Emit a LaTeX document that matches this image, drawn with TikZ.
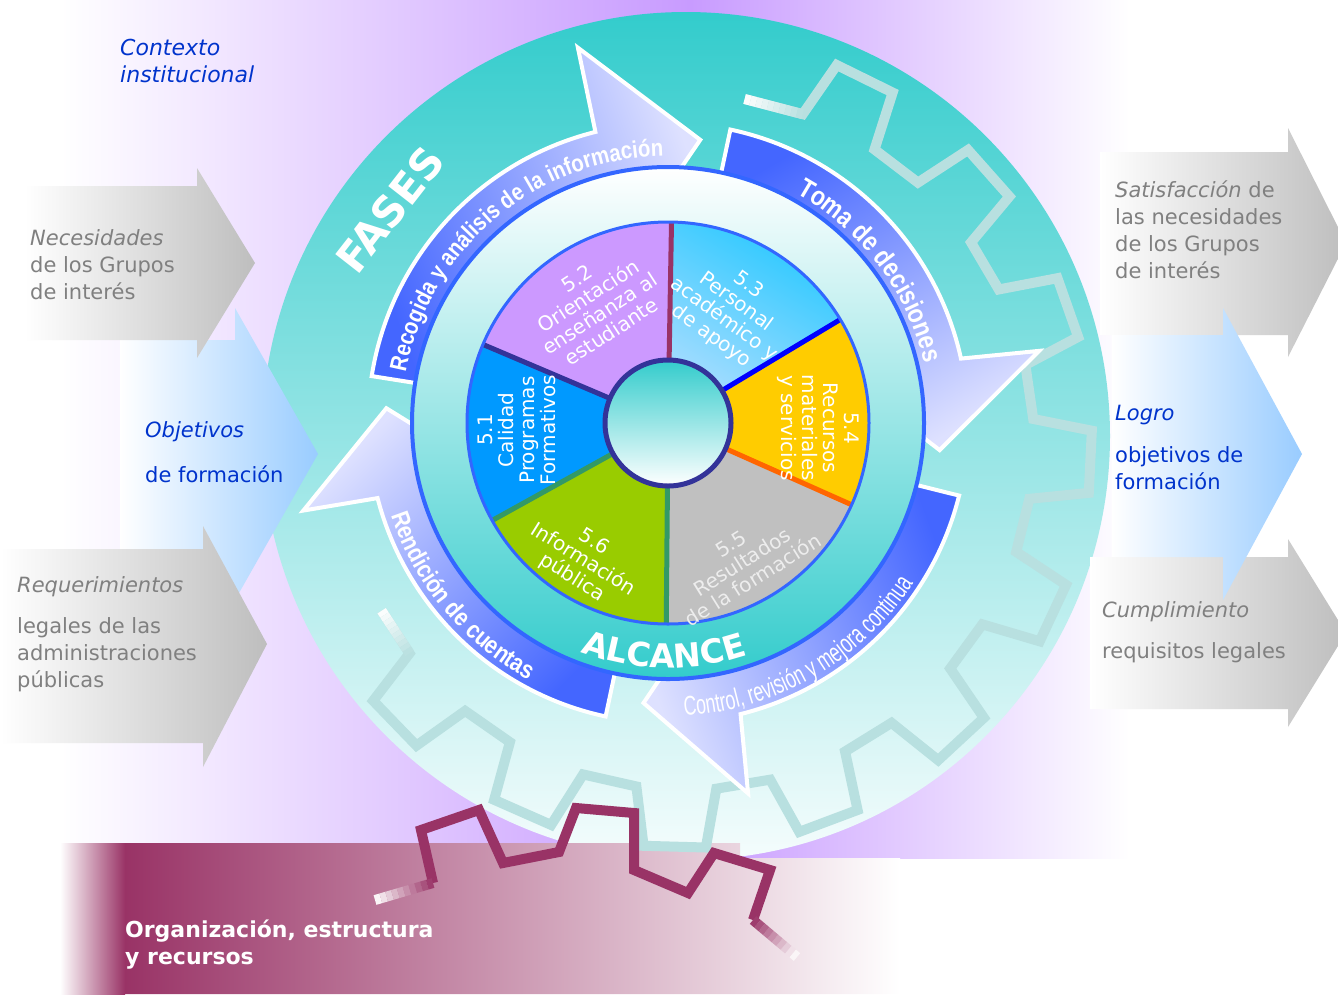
\documentclass[tikz,border=0pt]{standalone}
\usepackage{fontspec}
\setmainfont{DejaVu Sans}
\newfontfamily\narrowfont[FakeStretch=0.85]{Liberation Sans}
\newfontfamily\slimfont[FakeStretch=0.66]{Liberation Sans}
\usetikzlibrary{calc,decorations.text}

\definecolor{glowlilac}{RGB}{200,155,255}
\definecolor{wheelteal}{RGB}{51,204,204}
\definecolor{gearteal}{RGB}{184,224,224}
\definecolor{cogmagenta}{RGB}{153,51,102}
\definecolor{bandblue}{RGB}{68,102,255}
\definecolor{bandlilac}{RGB}{222,225,255}
\definecolor{rimblue}{RGB}{51,102,255}
\definecolor{arrowgray}{RGB}{190,190,190}
\definecolor{arrowblue}{RGB}{153,204,255}
\definecolor{textblue}{RGB}{0,51,204}
\definecolor{textgray}{RGB}{128,128,128}
\definecolor{secblue}{RGB}{0,153,255}
\definecolor{seclilac}{RGB}{204,153,255}
\definecolor{seccyan}{RGB}{40,200,255}
\definecolor{seccyanlight}{RGB}{175,222,255}
\definecolor{secyellow}{RGB}{255,204,0}
\definecolor{secgray}{RGB}{192,192,192}
\definecolor{secgreen}{RGB}{153,204,0}
\definecolor{hubnavy}{RGB}{51,51,153}
\definecolor{cutorange}{RGB}{255,102,0}
\definecolor{cutgreen}{RGB}{51,153,102}

\tikzset{
  sidetext/.style={anchor=west, align=left, inner sep=0pt, font=\fontsize{21}{27}\selectfont},
  sectext/.style={text=white, align=center, inner sep=0pt, font=\fontsize{20}{21}\selectfont},
  grayarrow/.style={left color=white, right color=arrowgray},
  bluearrow/.style={left color=white, right color=arrowblue},
  phase/.style={draw=white, line width=4pt, top color=bandblue, bottom color=bandlilac, shading angle=#1},
  cog/.style={line width=10pt},
  arclabel/.style={decorate, decoration={text along path, text align=center, text color=white, text={#1}}}
}

\begin{document}
\begin{tikzpicture}[x=1pt,y=1pt]
  \useasboundingbox (0,0) rectangle (1338,-994);
  \fill[white] (0,0) rectangle (1338,-994);
  \path[left color=white, right color=glowlilac] (60,0) rectangle (690,-858);
  \path[left color=glowlilac, right color=white] (690,0) rectangle (1130,-858);
  \path[top color=wheelteal, bottom color=white!95!wheelteal] (686,-436) circle[radius=424];
  \path[left color=white, right color=cogmagenta] (60,-843) rectangle (125,-994);
  \path[left color=cogmagenta, right color=white] (125,-843) -- (740,-843) -- (740,-858) -- (900,-858) -- (900,-994) -- (125,-994) -- cycle;

  \path[bluearrow] (120,-340) -- (235,-340) -- (235,-308) -- (318,-454) -- (235,-600) -- (235,-589) -- (120,-589) -- cycle;
  \path[grayarrow] (25,-186) -- (197,-186) -- (197,-168) -- (255,-263) -- (197,-358) -- (197,-340) -- (25,-340) -- cycle;
  \path[grayarrow] (0,-549) -- (203,-549) -- (203,-526) -- (267,-644) -- (203,-767) -- (203,-743) -- (0,-743) -- cycle;
  \path[grayarrow] (1100,-152) -- (1288,-152) -- (1288,-128) -- (1346,-243) -- (1288,-357) -- (1288,-335) -- (1100,-335) -- cycle;
  \path[grayarrow] (1090,-557) -- (1288,-557) -- (1288,-539) -- (1346,-633) -- (1288,-727) -- (1288,-709) -- (1090,-709) -- cycle;
  \path[bluearrow] (1112,-335) -- (1223,-335) -- (1223,-308) -- (1302,-454) -- (1223,-600) -- (1223,-557) -- (1112,-557) -- cycle;

  \begin{scope}[shift={(686,-442)}]
    \draw[cog, gearteal] (80.3:348) \foreach \k in {0,...,9}{
      -- ({63.8-22.2*\k+6.6}:348) -- ({63.8-22.2*\k+4.4}:406)
      -- ({63.8-22.2*\k-4.4}:406) -- ({63.8-22.2*\k-6.6}:348)} -- (-151:348);
    \foreach \i in {0,...,9}{
      \pgfmathtruncatemacro\p{10*\i+5}
      \draw[cog, gearteal!\p!white] ($(80.3:348)!\i/10!(70.4:348)$) -- ($(80.3:348)!\i/10+0.1!(70.4:348)$);
      \draw[cog, gearteal!\p!white] ($(-151:348)!\i/10!(-142.6:348)$) -- ($(-151:348)!\i/10+0.1!(-142.6:348)$);
    }
  \end{scope}

  \begin{scope}[shift={(668,-423)}]
    \path[phase=110] (171:210) -- (171:300) arc[start angle=171, end angle=104, radius=300]
      -- (103.5:386) -- (83.5:285) -- (95:210) arc[start angle=95, end angle=171, radius=210] -- cycle;
    \path[phase=30] (78:210) -- (78:300) arc[start angle=78, end angle=12.4, radius=300]
      -- (11:378) -- (-5.7:273) -- (5.8:210) arc[start angle=5.8, end angle=78, radius=210] -- cycle;
    \path[phase=-70] (-14:210) -- (-14:300) arc[start angle=-14, end angle=-76, radius=300]
      -- (-77.8:379) -- (-95:281) -- (-83.5:210) arc[start angle=-83.5, end angle=-14, radius=210] -- cycle;
    \path[phase=-135] (-102:210) -- (-102:300) arc[start angle=-102, end angle=-165.5, radius=300]
      -- (-166.5:375) -- (-183:282) -- (-171.5:210) arc[start angle=-171.5, end angle=-102, radius=210] -- cycle;

    \path[arclabel={|\narrowfont\bfseries\fontsize{24}{24}\selectfont|Recogida y análisis de la información}]
      (190:267) arc[start angle=190, end angle=70, radius=267];
    \path[arclabel={|\narrowfont\bfseries\fontsize{27}{27}\selectfont|Toma de decisiones}]
      (82:263) arc[start angle=82, end angle=-8, radius=263];
    \path[arclabel={|\slimfont\fontsize{27}{27}\selectfont|Control, revisión y mejora continua}]
      (-105:293) arc[start angle=-105, end angle=-15, radius=293];
    \path[arclabel={|\narrowfont\bfseries\fontsize{25}{25}\selectfont|Rendición de cuentas}]
      (175:292) arc[start angle=175, end angle=265, radius=292];

    \path[draw=rimblue, line width=4pt, top color=white, bottom color=wheelteal] (0,0) circle[radius=256];
    \foreach \a/\b/\c in {157/209/secblue, 89/157/seclilac, -24/31/secyellow, -90.5/-24/secgray, 209/269.5/secgreen}
      \fill[\c] (0,0) -- (\a:201) arc[start angle=\a, end angle=\b, radius=201] -- cycle;
    \path[top color=seccyan, bottom color=seccyanlight, shading angle=-30] (0,0) -- (31:201) arc[start angle=31, end angle=89, radius=201] -- cycle;
    \foreach \a/\c in {89/cogmagenta, 31/blue, -24/cutorange, -90.5/cutgreen, 209/cutgreen, 157/hubnavy}
      \draw[\c, line width=5pt] (\a:60) -- (\a:201);
    \draw[rimblue, line width=3pt] (0,0) circle[radius=201];
    \path[draw=hubnavy, line width=5pt, top color=wheelteal, bottom color=white] (0,0) circle[radius=63];
    \path[arclabel={|\bfseries\fontsize{33}{33}\selectfont|ALCANCE}]
      (-131:245) arc[start angle=-131, end angle=-51, radius=245];
  \end{scope}

  \node[sectext, rotate=90] (s51) at (517,-430) {5.1\\Calidad\\Programas\\Formativos};
  \node[sectext, rotate=33] (s52) at (594,-305) {5.2\\Orientación\\enseñanza al\\estudiante};
  \node[sectext, rotate=-36] (s53) at (730,-311) {5.3\\Personal\\académico y\\de apoyo};
  \node[sectext, rotate=-90] (s54) at (818,-428) {5.4\\Recursos\\materiales\\y servicios};
  \node[sectext, rotate=32, text=white!93!black] (s55) at (742,-562) {5.5\\Resultados\\de la formación};
  \node[sectext, rotate=-32] (s56) at (583,-560) {5.6\\Información\\pública};
  \node[text=white, font=\bfseries\fontsize{42}{42}\selectfont, rotate=52] (fases) at (390,-210) {FASES};

  \draw[cog, cogmagenta] (433,-883) -- (421,-830) -- (479,-810) -- (503,-863) -- (559,-852) -- (576,-808)
    -- (634,-813) -- (634,-870) -- (688,-893) -- (714,-853) -- (770,-870) -- (753,-920);
  \foreach \i in {0,...,9}{
    \pgfmathtruncatemacro\p{10*\i+5}
    \draw[cog, cogmagenta!\p!white] ($(375,-900)!\i/10!(433,-883)$) -- ($(375,-900)!\i/10+0.1!(433,-883)$);
    \draw[cog, cogmagenta!\p!white] ($(797,-957)!\i/10!(753,-920)$) -- ($(797,-957)!\i/10+0.1!(753,-920)$);
  }

  \node[sidetext, textblue, font=\itshape\fontsize{22}{27}\selectfont] (context) at (120,-61) {Contexto\\institucional};
  \node[sidetext, textgray] (needs) at (30,-265) {\textit{Necesidades}\\de los Grupos\\de interés};
  \node[sidetext, textblue] (goals) at (145,-432) {\textit{Objetivos}};
  \node[sidetext, textblue] (goalsb) at (145,-474) {de formación};
  \node[sidetext, textgray] (rules) at (17,-587) {\textit{Requerimientos}};
  \node[sidetext, textgray] (rulesb) at (17,-655) {legales de las\\administraciones\\públicas};
  \node[sidetext, textgray] (satisf) at (1115,-230) {\textit{Satisfacción} de\\las necesidades\\de los Grupos\\de interés};
  \node[sidetext, textblue] (logro) at (1115,-415) {\textit{Logro}};
  \node[sidetext, textblue] (logrob) at (1115,-468) {objetivos de\\formación};
  \node[sidetext, textgray] (cumpl) at (1102,-612) {\textit{Cumplimiento}};
  \node[sidetext, textgray] (cumplb) at (1102,-653) {requisitos legales};
  \node[sidetext, white, font=\bfseries\fontsize{22}{27}\selectfont] (org) at (125,-945) {Organización, estructura\\y recursos};
\end{tikzpicture}
\end{document}
